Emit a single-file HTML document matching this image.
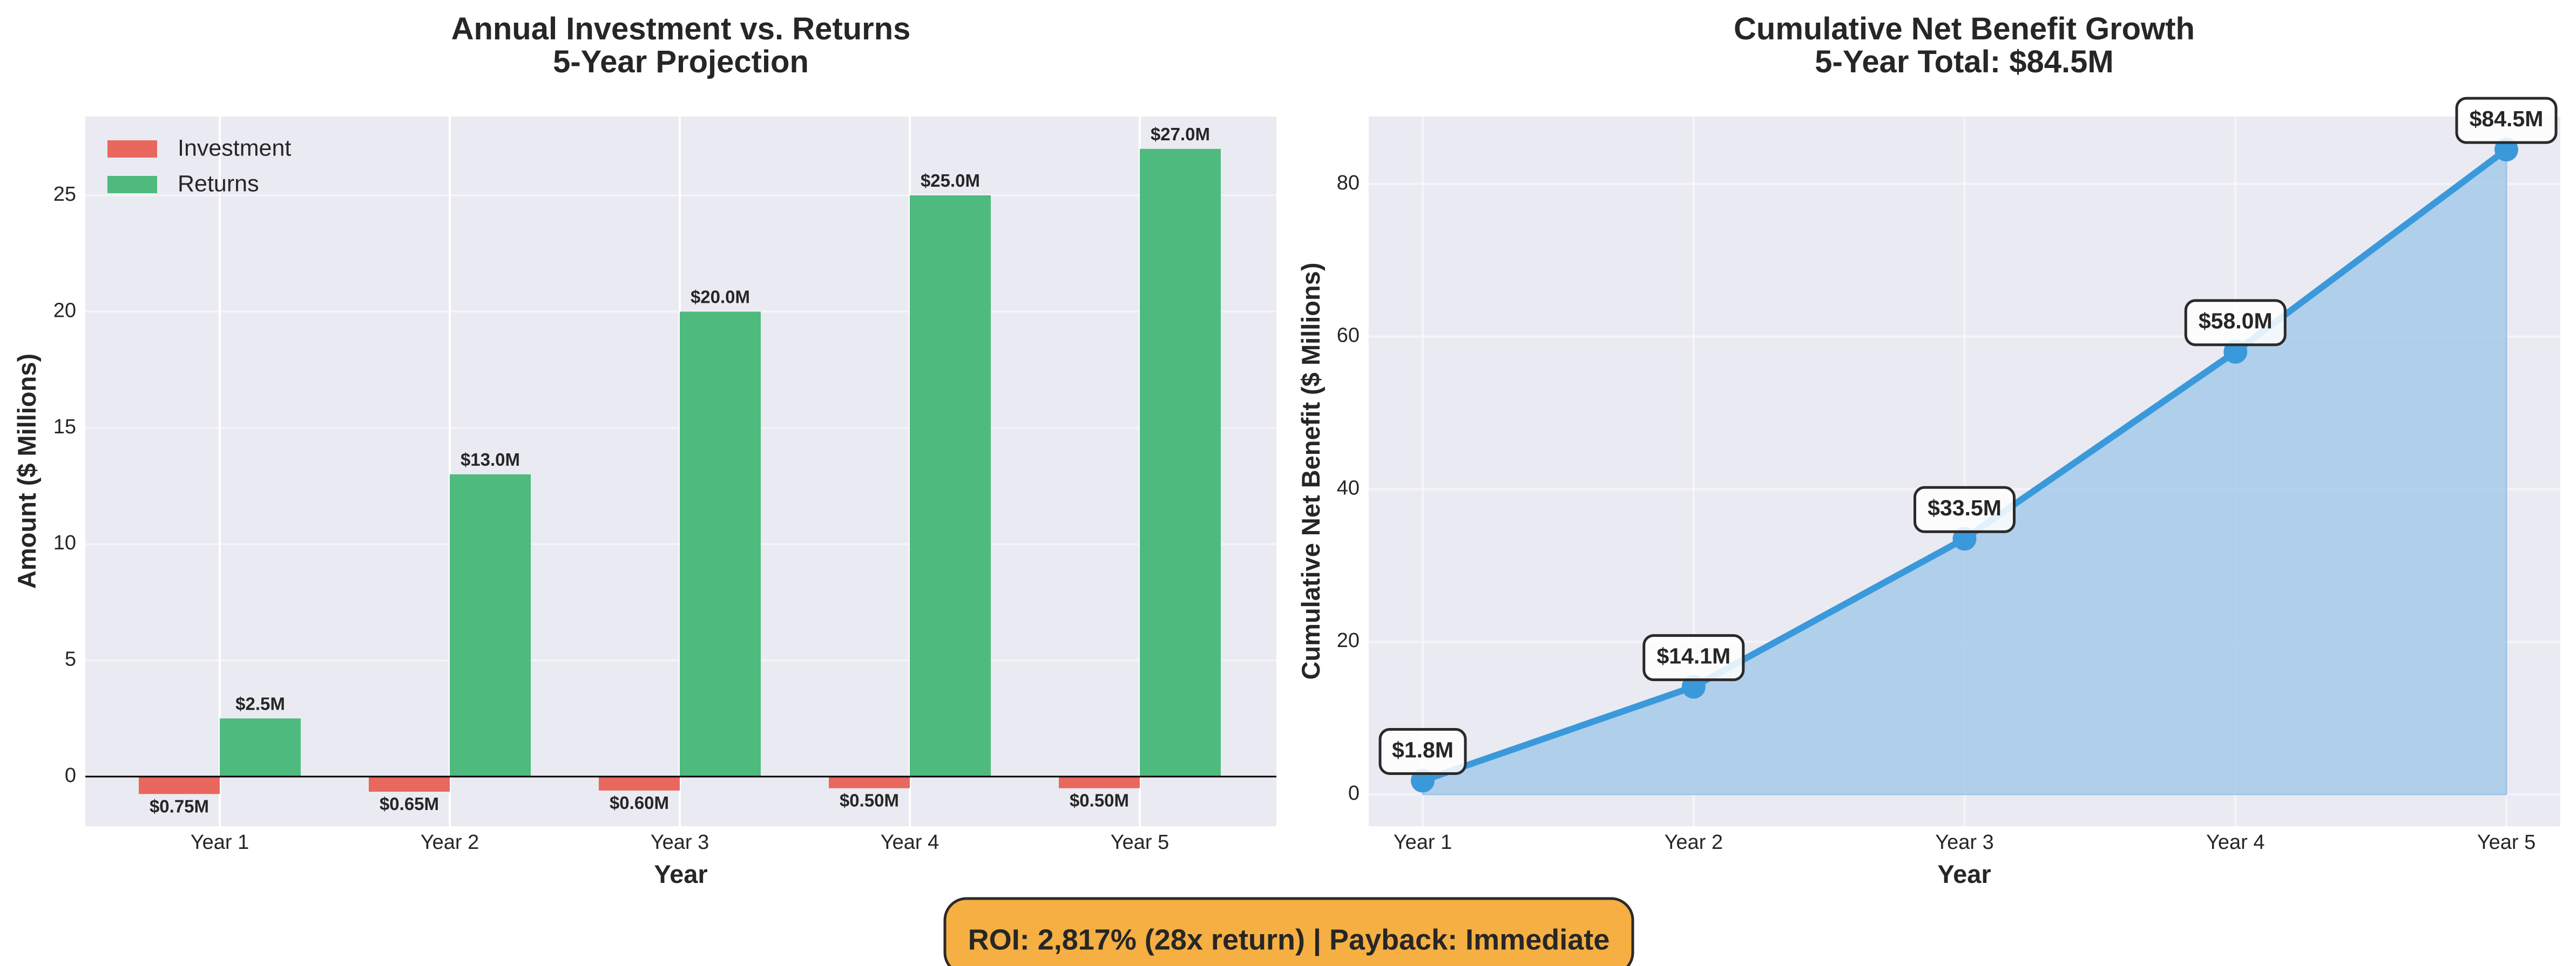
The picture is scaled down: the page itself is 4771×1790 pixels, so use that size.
<!DOCTYPE html>
<html><head><meta charset="utf-8">
<style>
html,body{margin:0;padding:0;background:#fff;}
svg{display:block;font-family:"Liberation Sans",sans-serif;}
</style></head>
<body>
<svg id="chart" width="4771" height="1790" viewBox="0 0 4771 1790" xmlns="http://www.w3.org/2000/svg">
<g id="left"></g>
<g id="right"></g>
<g>
<rect x="1750" y="1665" width="1274" height="140" rx="40" fill="#F5AF42" stroke="#2a2a2a" stroke-width="5"/>
<text x="2387" y="1745" font-size="54" font-weight="bold" fill="#262626" text-anchor="middle" dominant-baseline="middle">ROI: 2,817% (28x return) | Payback: Immediate</text>
</g>
</svg>
<script>
const years = ["Year 1","Year 2","Year 3","Year 4","Year 5"];
const investment = [0.75,0.65,0.60,0.50,0.50];
const returns = [2.5,13.0,20.0,25.0,27.0];
const leftTicks = [0,5,10,15,20,25];
const cumulative = [1.8,14.1,33.5,58.0,84.5];
const rightTicks = [0,20,40,60,80];

const NS="http://www.w3.org/2000/svg";
function mk(parent,tag,attrs,text){const e=document.createElementNS(NS,tag);for(const k in attrs)e.setAttribute(k,attrs[k]);if(text!==undefined)e.textContent=text;parent.appendChild(e);return e;}

// LEFT
const L=document.getElementById('left');
const lx0=158,lx1=2364,ly0=216,ly1=1531;
const lxs=i=>407+i*426;
const lys=v=>1439-v*43.08;
const bw=150;
let e=mk(L,'rect',{x:lx0,y:ly0,width:lx1-lx0,height:ly1-ly0,fill:'#EAEAF2'});

leftTicks.forEach(t=>{
  e=mk(L,'line',{x1:lx0,x2:lx1,y1:lys(t),y2:lys(t),stroke:'#fff','stroke-width':3,opacity:0.6});
  
  e=mk(L,'text',{x:141,y:lys(t),'font-size':38,fill:'#262626','text-anchor':'end','dominant-baseline':'middle'},String(t));
  
});
years.forEach((y,i)=>{
  e=mk(L,'line',{x1:lxs(i),x2:lxs(i),y1:ly0,y2:ly1,stroke:'#fff','stroke-width':4});
  
});
years.forEach((y,i)=>{
  const cx=lxs(i);
  e=mk(L,'rect',{x:cx-bw,y:lys(0),width:bw,height:lys(-investment[i])-lys(0),fill:'#E8685E'});
  
  e=mk(L,'rect',{x:cx,y:lys(returns[i]),width:bw,height:lys(0)-lys(returns[i]),fill:'#4FBA7E'});
  
  e=mk(L,'text',{x:cx-bw/2,y:lys(-investment[i])+34,'font-size':33,'font-weight':'bold',fill:'#262626','text-anchor':'middle'},'$'+investment[i].toFixed(2)+'M');
  
  e=mk(L,'text',{x:cx+bw/2,y:lys(returns[i])-16,'font-size':33,'font-weight':'bold',fill:'#262626','text-anchor':'middle'},'$'+returns[i].toFixed(1)+'M');
  
  e=mk(L,'text',{x:cx,y:1563,'font-size':38,fill:'#262626','text-anchor':'middle','dominant-baseline':'middle'},y);
  
});
e=mk(L,'line',{x1:lx0,x2:lx1,y1:lys(0),y2:lys(0),stroke:'#000','stroke-width':3});

// legend
e=mk(L,'rect',{x:199,y:260,width:92,height:32,fill:'#E8685E'});

e=mk(L,'text',{x:329,y:277,'font-size':43,fill:'#262626','dominant-baseline':'middle'},'Investment');

e=mk(L,'rect',{x:199,y:326,width:92,height:32,fill:'#4FBA7E'});

e=mk(L,'text',{x:329,y:343,'font-size':43,fill:'#262626','dominant-baseline':'middle'},'Returns');

// titles
e=mk(L,'text',{x:1261,y:73,'font-size':58,'font-weight':'bold',fill:'#262626','text-anchor':'middle'},'Annual Investment vs. Returns');

e=mk(L,'text',{x:1261,y:134,'font-size':58,'font-weight':'bold',fill:'#262626','text-anchor':'middle'},'5-Year Projection');

e=mk(L,'text',{x:1261,y:1636,'font-size':47,'font-weight':'bold',fill:'#262626','text-anchor':'middle'},'Year');

e=mk(L,'text',{x:66,y:873,'font-size':47,'font-weight':'bold',fill:'#262626','text-anchor':'middle',transform:'rotate(-90 66 873)'},'Amount ($ Millions)');


// RIGHT
const R=document.getElementById('right');
const rx0=2535,rx1=4742,ry0=216,ry1=1531;
const rxs=i=>2635+i*501.75;
const rys=v=>1472-v*14.14;
e=mk(R,'rect',{x:rx0,y:ry0,width:rx1-rx0,height:ry1-ry0,fill:'#EAEAF2'});

rightTicks.forEach(t=>{
  e=mk(R,'line',{x1:rx0,x2:rx1,y1:rys(t),y2:rys(t),stroke:'#fff','stroke-width':4,opacity:0.5});
  
  e=mk(R,'text',{x:2518,y:rys(t),'font-size':38,fill:'#262626','text-anchor':'end','dominant-baseline':'middle'},String(t));
  
});
years.forEach((y,i)=>{
  e=mk(R,'line',{x1:rxs(i),x2:rxs(i),y1:ry0,y2:ry1,stroke:'#fff','stroke-width':4,opacity:0.5});
  
  e=mk(R,'text',{x:rxs(i),y:1563,'font-size':38,fill:'#262626','text-anchor':'middle','dominant-baseline':'middle'},y);
  
});
let pts=cumulative.map((v,i)=>rxs(i)+','+rys(v)).join(' ');
e=mk(R,'polygon',{points:rxs(0)+','+rys(0)+' '+pts+' '+rxs(cumulative.length-1)+','+rys(0),fill:'#A7CBEA',opacity:0.85,stroke:'#8DBDE6','stroke-width':3});

e=mk(R,'polyline',{points:pts,fill:'none',stroke:'#3A99DA','stroke-width':12,'stroke-linejoin':'round'});

cumulative.forEach((v,i)=>{
  e=mk(R,'circle',{cx:rxs(i),cy:rys(v),r:22,fill:'#3A99DA'});
  
});
cumulative.forEach((v,i)=>{
  const lbl='$'+v.toFixed(1)+'M';
  const w=lbl.length>5?184:158;
  const cy=rys(v)-54;
  e=mk(R,'rect',{x:rxs(i)-w/2,y:cy-41,width:w,height:82,rx:18,fill:'#fff','fill-opacity':0.85,stroke:'#2a2a2a','stroke-width':5});
  
  e=mk(R,'text',{x:rxs(i),y:cy,'font-size':41,'font-weight':'bold',fill:'#262626','text-anchor':'middle','dominant-baseline':'middle'},lbl);
  
});
e=mk(R,'text',{x:3638,y:73,'font-size':58,'font-weight':'bold',fill:'#262626','text-anchor':'middle'},'Cumulative Net Benefit Growth');

e=mk(R,'text',{x:3638,y:134,'font-size':58,'font-weight':'bold',fill:'#262626','text-anchor':'middle'},'5-Year Total: $84.5M');

e=mk(R,'text',{x:3638,y:1636,'font-size':47,'font-weight':'bold',fill:'#262626','text-anchor':'middle'},'Year');

e=mk(R,'text',{x:2444,y:873,'font-size':47,'font-weight':'bold',fill:'#262626','text-anchor':'middle',transform:'rotate(-90 2444 873)'},'Cumulative Net Benefit ($ Millions)');

</script>
</body></html>
